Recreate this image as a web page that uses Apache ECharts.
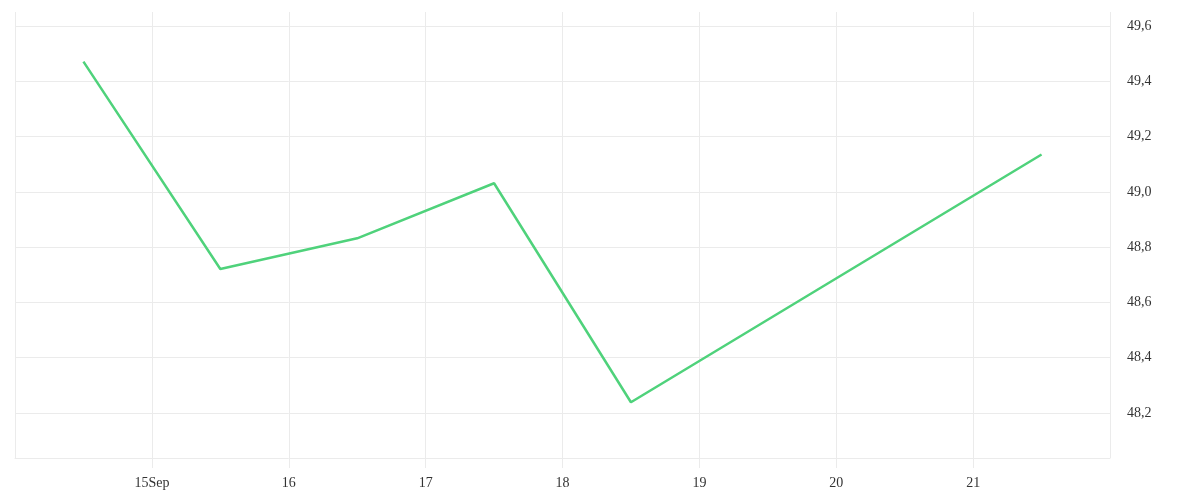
<!DOCTYPE html>
<html>
<head>
<meta charset="utf-8">
<script src="https://cdn.jsdelivr.net/npm/echarts@6/dist/echarts.min.js"></script>
<style>html,body{margin:0;padding:0;background:#fff}#c{width:1200px;height:500px}</style>
</head>
<body>
<div id="c"></div>
<script>
// Day-of-month positions (September), points at midday
var days = [14.5, 15.5, 16.5, 17.5, 18.5, 21.5];
var values = [49.471, 48.721, 48.832, 49.031, 48.239, 49.135];
var yTicks = [48.2, 48.4, 48.6, 48.8, 49.0, 49.2, 49.4, 49.6];
var monthLabel = 'Sep';

var data = days.map(function (d, i) { return [d, values[i]]; });
var chart = echarts.init(document.getElementById('c'), null, {renderer: 'canvas'});
var font = 'Liberation Serif';
chart.setOption({
  animation: false,
  grid: {left: 15, right: 90, top: 12, bottom: 42, containLabel: false},
  xAxis: {
    type: 'value',
    min: 14, max: 22, interval: 1,
    axisLine: {show: true, lineStyle: {color: '#ebebeb', width: 1}},
    axisTick: {show: true, length: 10, lineStyle: {color: '#ebebeb'}},
    splitLine: {show: true, lineStyle: {color: '#ebebeb', width: 1}},
    axisLabel: {
      showMinLabel: false, showMaxLabel: false,
      color: '#333', fontFamily: font, fontSize: 14, margin: 18,
      formatter: function (v) { return v === 15 ? v + monthLabel : String(v); }
    }
  },
  yAxis: {
    type: 'value',
    position: 'right',
    min: 48.0372, max: 49.6506,
    axisLine: {show: false},
    axisTick: {show: false, customValues: yTicks},
    splitLine: {show: true, lineStyle: {color: '#ebebeb', width: 1}},
    axisLabel: {
      customValues: yTicks,
      color: '#333', fontFamily: font, fontSize: 14, margin: 17,
      formatter: function (v) { return v.toFixed(1).replace('.', ','); }
    }
  },
  series: [{
    type: 'line',
    data: data,
    showSymbol: false,
    symbol: 'none',
    lineStyle: {color: '#4fd27b', width: 2.5},
    itemStyle: {color: '#4fd27b'}
  }]
});
</script>
</body>
</html>
